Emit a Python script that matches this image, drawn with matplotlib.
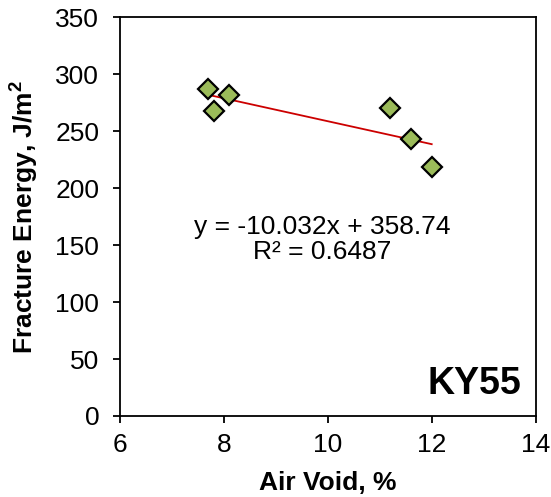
import numpy as np
import matplotlib
matplotlib.use("Agg")
from matplotlib import pyplot as plt

# air void (%) vs fracture energy (J/m^2)
air_void = [7.7, 7.8, 8.1, 11.2, 11.6, 12.0]
fracture_energy = [287, 267.5, 282, 270.5, 243, 219]
equation_text = "y = -10.032x + 358.74\nR² = 0.6487"
mix_label = "KY55"

plt.rcParams['font.family'] = ['Liberation Sans', 'DejaVu Sans']

fig = plt.figure(figsize=(5.51, 4.97), dpi=100)
ax = fig.add_axes([0.218, 0.163, 0.754, 0.802])

# linear trendline over the data range
slope, intercept = np.polyfit(air_void, fracture_energy, 1)
xs = np.array([min(air_void), max(air_void)])
ax.plot(xs, slope * xs + intercept, color='#CC0000', lw=1.3, zorder=2)

ax.plot(air_void, fracture_energy, linestyle='none', marker='D', markersize=10,
        markerfacecolor='#9BBB59', markeredgecolor='black', markeredgewidth=1.6, zorder=3)

ax.set_xlim(6, 14)
ax.set_ylim(0, 350)
ax.set_xticks([6, 8, 10, 12, 14])
ax.set_yticks(range(0, 351, 50))

for sp in ax.spines.values():
    sp.set_linewidth(1.3)
ax.tick_params(direction='out', length=5, width=1.3, labelsize=19)
ax.tick_params(axis='x', pad=7)
ax.tick_params(axis='y', pad=10)

ax.set_xlabel("Air Void, %", fontsize=19, fontweight='bold', labelpad=10)
ax.set_ylabel("Fracture Energy, J/m$^\\mathregular{2}$", fontsize=19, fontweight='bold', labelpad=11)

ax.text(9.89, 155, equation_text, ha='center', va='center', fontsize=19, linespacing=1.1)
ax.text(13.72, 28, mix_label, ha='right', va='center', fontsize=27, fontweight='bold')

fig.savefig('out.png', dpi=100)
